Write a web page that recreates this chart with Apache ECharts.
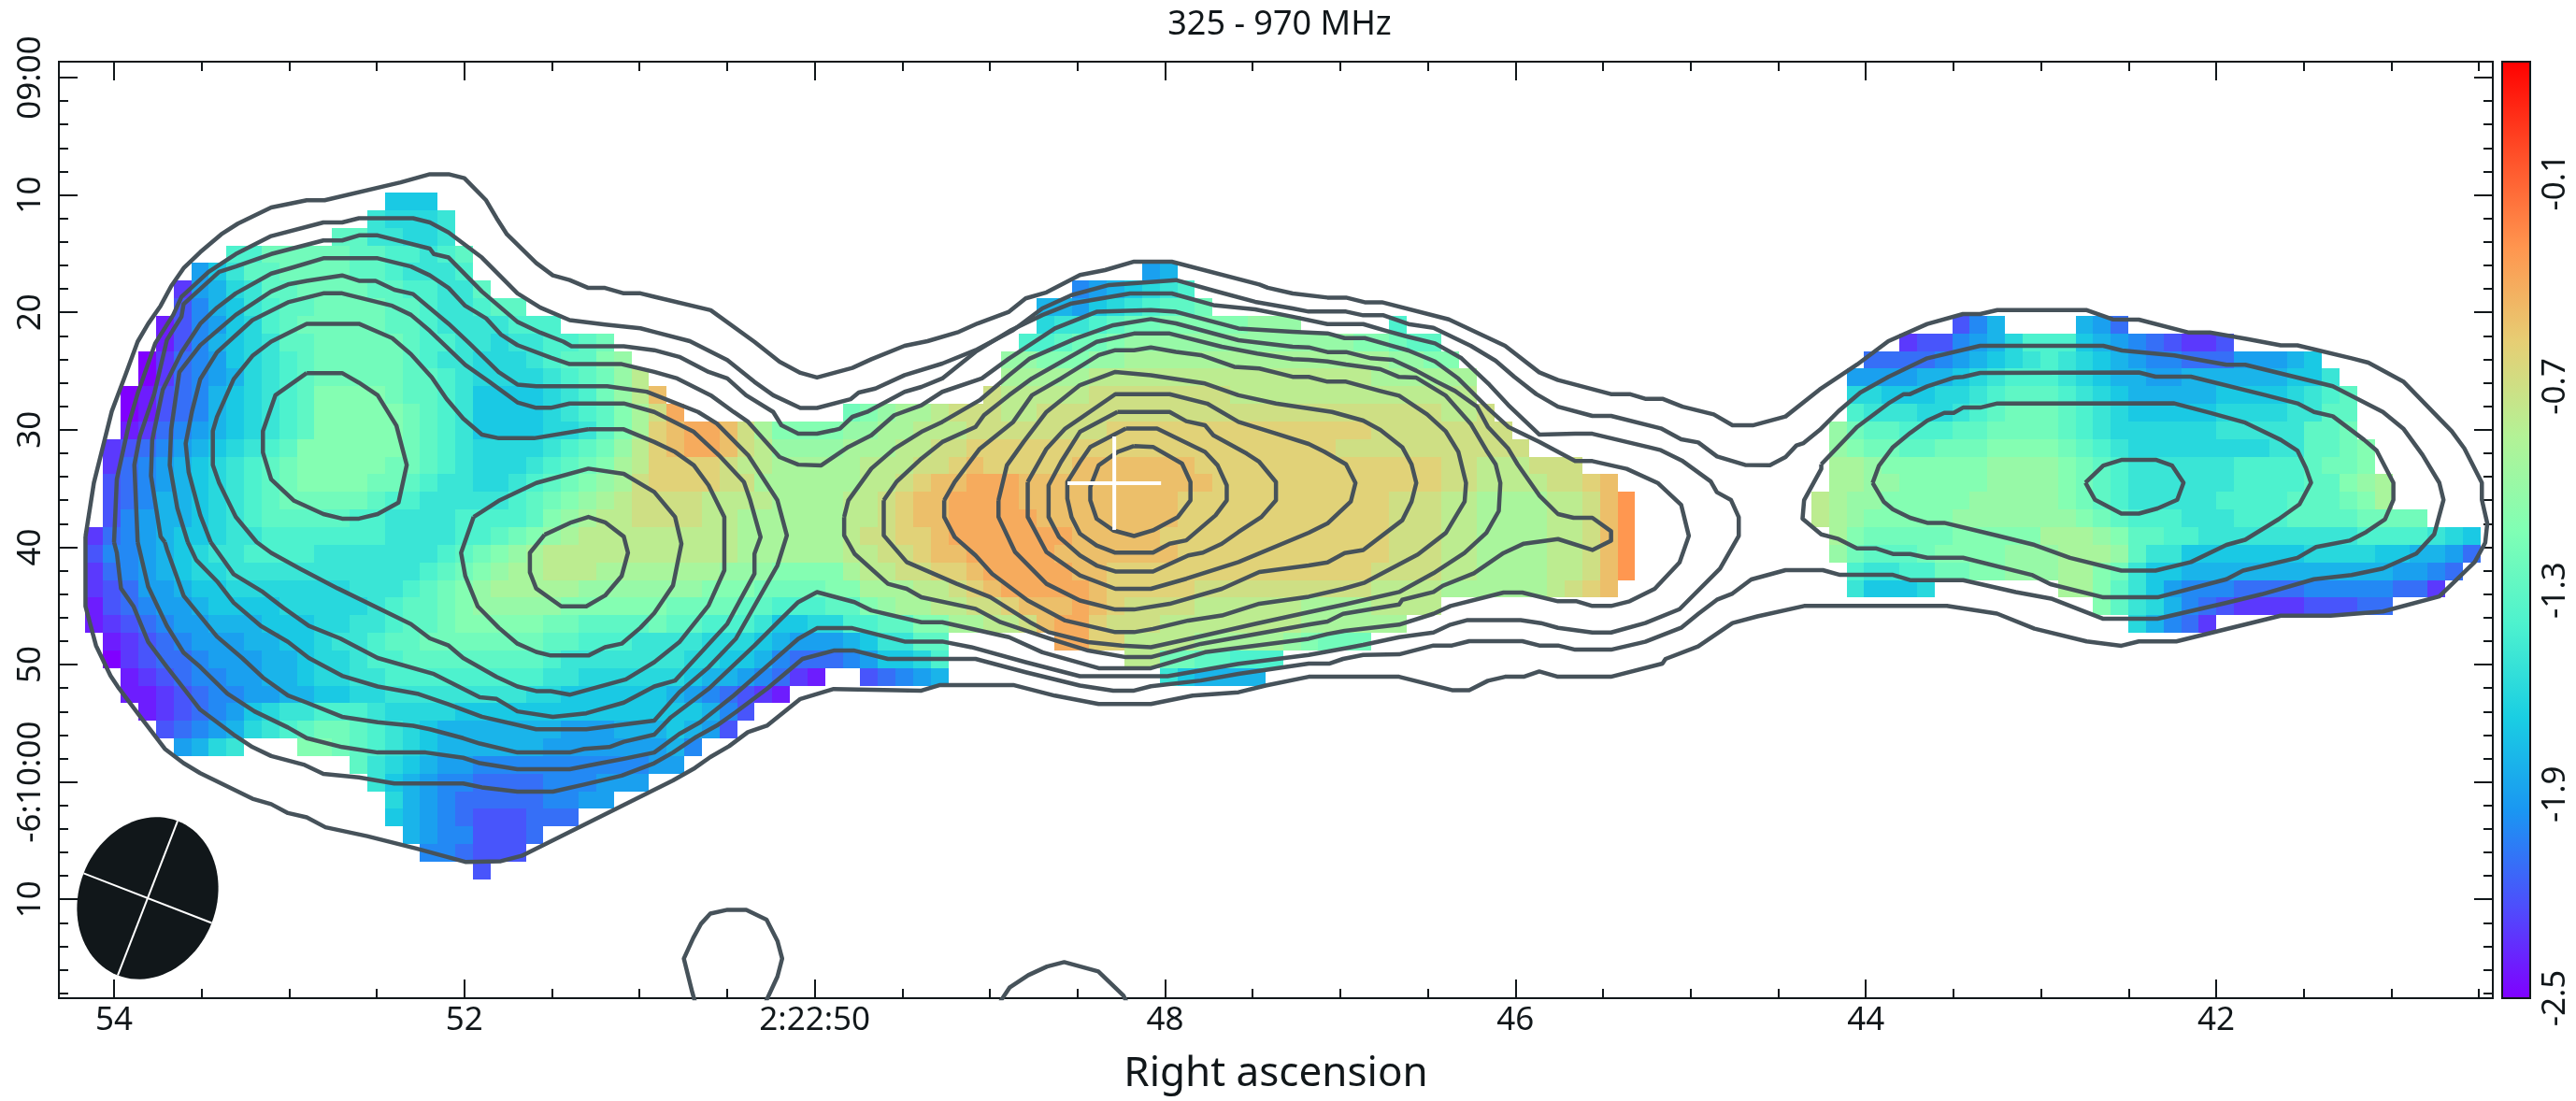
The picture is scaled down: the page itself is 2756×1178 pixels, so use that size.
<!DOCTYPE html>
<html><head><meta charset="utf-8">
<style>html,body{margin:0;padding:0;background:#fff}#c{width:2756px;height:1178px}</style>
<script src="https://cdn.jsdelivr.net/npm/echarts@6/dist/echarts.min.js"></script>
</head><body><div id="c"></div>
<script>
const titleText = "325 - 970 MHz";
const xAxisName = "Right ascension";
const raMin = 40.4205, raMax = 54.3148;
const decMin = -1.354, decMax = 78.42;
const xMajorTicks = [54,52,50,48,46,44,42];
const xMinorTicks = [54.5,53.5,53,52.5,51.5,51,50.5,49.5,49,48.5,47.5,47,46.5,45.5,45,44.5,43.5,43,42.5,41.5,41,40.5];
const yMajorTicks = [0,10,20,30,40,50,60,70];
const yMinorTicks = [2,4,6,8,12,14,16,18,22,24,26,28,32,34,36,38,42,44,46,48,52,54,56,58,62,64,66,68,72,74,76,78];
const yTickLabels = {0:"09:00",10:"10",20:"20",30:"30",40:"40",50:"50",60:"-6:10:00",70:"10"};
const xTickLabels = {54:"54",52:"52",50:"2:22:50",48:"48",46:"46",44:"44",42:"42"};
const barMin = -2.5, barMax = 0.255;
const barTicks = [-2.5,-1.9,-1.3,-0.7,-0.1];
const palette = ["#8000ff","#4d4ffc","#1a96f2","#1acee3","#4df2ce","#80ffb4","#b3f296","#e6ce74","#ff964f","#ff4f28","#ff0000"];
const levelLetters = "abcdefghijklmnopqrstuvw";
const levelValues = [-2.5,-2.4,-2.3,-2.2,-2.1,-2.0,-1.9,-1.8,-1.7,-1.6,-1.5,-1.4,-1.3,-1.2,-1.1,-1.0,-0.9,-0.8,-0.7,-0.6,-0.5,-0.4,-0.3];
const cellRaStart = 54.1628, cellRaStep = 0.10053, cellDecStart = 9.793, cellDecStep = 1.5;
// one string per map row: first column, then value-letter + last column of that run ('.' = blank)
const mapRows = [
"17 i19",
"16 k16 j19 k20",
"14 m15 k17 j19 k20",
"8 l9 n14 m16 l18 k19 l20 m21",
"6 g6 i7 k8 m10 n14 m16 l17 k20 l21 .59 g60 h61",
"5 c5 g6 h7 j8 k9 m11 n15 m17 l19 k21 m22 .55 f56 g57 h58 i59 j60 k61 l62",
"5 d5 f6 h7 i8 k9 l10 m12 n16 m18 l19 k21 l22 m24 .53 h55 g56 i57 j58 k59 l60 m62 n63",
"4 b4 d5 f6 g7 i8 j9 l10 m11 n16 m18 l19 k23 l26 .53 j54 k56 l57 m58 n60 o65 p68 .73 l74 .105 d106 f107 h108 .112 h113 g114 e115",
"4 b4 d5 f6 h7 i8 j9 k10 m12 n17 m18 l20 k22 j23 k25 l27 m28 n29 .52 l54 m55 n57 o58 p71 o73 n74 m76 .102 c103 d105 f106 g107 h108 j109 l112 i113 h114 g115 f116 e117 d118 c120 d121",
"3 a3 c4 e5 f6 g7 i8 j9 k10 l11 m12 n17 m18 l19 k21 j24 k25 l26 m28 o29 p30 .51 p53 o56 p58 q73 p75 o77 .100 e104 f105 g106 h107 i108 j109 k110 l111 k112 j113 i114 h115 g116 f118 e121 g124 h125 i126",
"3 a3 c4 e5 f6 g7 h8 j9 k10 l11 m12 n17 m19 l20 k21 j25 k26 l27 m28 n29 p30 r31 .51 q56 r72 q78 .99 g103 h105 i106 j107 k108 l111 k112 j113 i114 h116 g118 h124 i126 k127",
"2 a2 b3 d4 e5 f6 h7 i8 j9 k10 l11 m12 o16 n17 m19 l20 k21 i25 j26 k27 l28 n29 p30 r31 u32 .50 s51 r56 s64 r78 .99 j101 i104 j106 k107 l108 m111 l112 k113 j114 i115 h120 i124 j125 k126 l127 m128",
"2 a2 b3 d4 e5 f6 h7 i8 j9 k10 l11 m12 o17 n18 m19 l20 k21 i25 j26 k27 l28 m29 o30 q31 s32 v33 .42 n43 o44 p45 q47 r48 s51 r53 s76 r78 s79 .99 l100 k103 j105 k106 l107 m108 n111 m112 l113 k114 j115 i120 j124 k126 m128",
"2 b2 c3 e4 f5 g6 h7 i8 j9 k10 l11 m12 o17 n18 m19 l20 k21 i25 j27 k28 m29 o30 q31 t32 u33 v35 u36 s37 q38 o42 p44 q46 r49 s57 t72 s80 .98 p99 n100 m102 l105 m107 n111 m112 l113 k114 j120 k125 m127 n128",
"1 c1 d2 e3 f4 g5 h6 i7 j8 k9 l10 m11 o17 n18 m19 l20 k21 j25 k26 l27 m28 n29 p30 r31 t32 u33 v35 u36 s37 r38 p42 q45 r47 s49 t70 s81 .98 p99 o100 n102 m104 n107 o111 n112 m113 l114 k115 j123 k125 m127 n128 o129",
"1 c1 e2 f3 g4 h5 i6 j7 k8 l9 m10 n11 o16 n18 m19 l20 k21 j24 k25 l26 m27 n28 o29 q30 r31 t35 s36 r38 q43 r46 s48 t49 u50 t55 u62 t76 s78 r81 s84 .98 q100 p101 o107 p111 o112 n113 m114 l115 k121 l125 m126 n128 o129",
"1 d1 e2 f3 g4 h5 i6 j7 k8 l9 m10 n11 o15 n17 m18 l19 k21 j23 k24 l25 m26 n27 o28 p29 q30 s31 t35 s37 q43 r45 s46 t47 u49 v52 u63 t76 s78 r82 s84 t85 u86 .98 q100 p102 o107 p111 o112 n113 m114 l115 k121 l125 m127 o128 p129 q130",
"1 d1 e2 f3 h5 i6 j7 k8 l9 m10 n15 m16 l18 k23 l24 m25 n26 o27 p28 q29 r30 s34 r38 q42 r44 s45 t46 u48 v52 u61 t73 s76 r78 q82 r84 s85 u86 w87 .97 r98 q99 p101 o106 p111 o112 n113 m114 l115 k120 l124 m127 n128 o129 q130",
"1 d1 f2 g3 h5 i6 j7 k8 l9 m14 l16 k20 l24 m25 o26 p27 q28 r30 s34 r36 q42 r44 s45 t46 u48 v53 u61 t73 s76 r78 q82 r84 s85 u86 w87 .97 r98 q99 p100 o105 p112 o113 n114 m115 l118 k121 l124 m128 n132",
"0 c0 e1 f2 g3 h4 i6 j7 k9 l16 k20 l22 m23 n24 o25 p26 q27 r36 q42 r43 s45 t47 u48 v55 u60 t73 s76 r78 q82 r84 s85 u86 w87 .98 q99 o100 n105 o110 q113 p114 o115 m117 l119 k128 l132 k133 j134 i135",
"0 d0 f2 g3 h4 i5 j6 k8 l12 k19 l20 m21 n22 o23 p24 q25 r36 q42 r44 s46 t47 u49 v54 u61 t73 s76 r78 q82 r84 s85 u86 w87 .98 p99 n100 m103 n104 o108 p111 q114 p115 m116 k118 i125 j129 i131 h133 g134 e135",
"0 c0 e1 f2 g3 h4 i5 j7 k18 l19 m20 n21 o22 p23 q25 r28 q35 p38 o42 q43 r45 s47 t49 u50 v55 u57 t72 s76 r78 q82 r84 s85 u86 w87 .99 l100 k102 l104 n106 o108 p111 q113 o114 n115 k116 i118 h130 g132 f133 e134",
"0 c0 d1 e2 g4 h5 i7 j14 k17 l18 m19 n20 o21 p22 q27 p34 o37 n41 o43 q46 r48 s49 t50 u51 v56 u57 t62 s72 r76 q82 r83 s84 t85 u86 .99 k100 i103 j104 .111 q113 o114 m115 k116 i117 g118 f121 e125 f130 e132 c133",
"0 b0 d1 e2 f3 g5 h6 i10 j15 k16 l17 m19 n20 o21 p26 o32 n36 m38 l41 m43 o44 p45 q47 r49 s51 t52 u55 v56 u57 t58 s62 r68 q72 r76 .113 o114 m115 k116 j117 h118 f119 e120 d121 c125 d128 e130",
"0 b0 c1 d2 e3 f4 g6 h9 i12 j14 k16 l17 m19 n20 o25 n27 m31 n32 m34 l37 k38 i40 j42 l44 m46 o48 q50 r52 s53 u54 v56 t57 s60 r68 q74 .115 j116 h117 f118 e119 c120",
"1 b1 c2 d3 e4 f5 g8 h10 i12 j13 k15 l16 m18 n25 m27 l30 k34 j37 i38 h39 g42 h43 i44 k46 m48 .54 v56 t58 r62 q67 p68 o69 n72",
"1 a1 c2 d3 e5 f6 g9 h11 i12 j14 k15 l17 m25 l26 k33 j35 i37 h38 f39 e42 f43 g44 i46 j47 l48 .58 r60 n62 m64 l67",
"2 b2 c3 d4 e5 f7 g9 h11 i12 j14 k16 l25 k27 j33 i34 h36 g37 f38 e39 c40 b41 .43 d44 e45 f46 g47 h48 .60 k61 i62 h66",
"2 b3 c4 d5 e6 f8 g10 h12 i14 j16 k24 j26 i32 h33 g34 f35 e36 d37 c38 b39",
"3 b3 c4 d5 e6 f7 g8 i9 j10 k12 l15 k16 j20 i34 h35 f36 d37",
"4 d4 e5 f6 g7 h8 j9 k10 l11 m12 n14 m15 l16 k17 j18 i19 h26 g29 h32 i33 h34 g35 d36",
"5 g5 h6 j7 k8 .11 o13 n14 m15 l16 k17 j18 i19 h25 g32 h33 f34",
"15 m15 k16 j17 i18 h19 g21 f31 g33",
"16 k16 i17 h18 g19 f21 e25 f28 g31",
"17 j17 h18 g19 f20 e25 f27 g29",
"17 i17 h18 g19 f20 e21 d24 e27",
"18 h18 g19 f21 d24 e25",
"19 f20 e21 d24",
"22 d22"
];
// contours: [right ascension seconds, declination arcseconds past -6:09:00]
const contourL1=[[54.163,39.10],[54.115,34.52],[54.013,28.43],[53.936,25.38],[53.865,22.49],[53.805,20.97],[53.734,19.44],[53.674,17.77],[53.603,16.24],[53.508,14.87],[53.388,13.35],[53.293,12.44],[53.103,11.06],[52.900,10.45],[52.798,10.45],[52.364,8.93],[52.197,8.23],[52.090,8.23],[52.000,8.57],[51.876,10.45],[51.816,11.98],[51.757,13.35],[51.590,15.79],[51.495,16.85],[51.399,17.25],[51.292,17.92],[51.197,17.92],[51.090,18.38],[50.995,18.38],[50.916,18.67],[50.594,19.81],[50.344,22.51],[50.201,24.21],[50.082,25.15],[49.987,25.55],[49.785,24.73],[49.677,23.99],[49.487,22.85],[49.356,22.45],[49.177,21.66],[49.070,20.94],[48.891,19.95],[48.796,18.81],[48.677,18.30],[48.486,16.82],[48.343,16.40],[48.177,15.68],[47.962,15.68],[47.462,17.62],[47.414,17.90],[47.271,18.39],[47.073,18.74],[46.967,18.74],[46.860,19.14],[46.762,19.14],[46.380,20.60],[46.059,22.85],[45.864,25.11],[45.757,25.77],[45.455,26.96],[45.348,26.96],[45.259,27.36],[45.161,27.36],[45.046,28.03],[44.868,28.69],[44.761,29.62],[44.645,29.62],[44.458,28.87],[44.263,26.57],[44.049,24.44],[43.871,22.45],[43.649,20.99],[43.445,20.14],[43.347,20.14],[43.249,19.80],[42.742,19.80],[42.591,20.59],[42.441,20.62],[42.155,21.72],[42.036,21.72],[41.822,22.27],[41.631,22.81],[41.536,22.81],[41.226,23.91],[41.131,24.28],[40.929,25.92],[40.655,30.12],[40.583,31.59],[40.483,34.51],[40.483,35.97],[40.452,37.98],[40.464,39.63],[40.524,41.27],[40.726,44.20],[41.048,45.48],[41.346,45.84],[41.631,45.84],[42.227,48.03],[42.441,48.03],[42.541,48.40],[42.739,48.03],[43.037,46.94],[43.251,45.66],[43.537,45.00],[44.352,45.01],[44.619,45.90],[44.761,46.47],[44.957,48.46],[45.143,49.52],[45.161,49.92],[45.455,51.04],[45.757,51.04],[45.864,50.59],[45.953,51.04],[46.059,51.04],[46.157,51.38],[46.264,52.18],[46.362,52.18],[46.664,51.04],[47.180,51.04],[47.426,51.79],[47.581,52.36],[47.843,52.65],[48.081,53.36],[48.379,53.36],[48.629,52.65],[48.867,51.74],[49.284,51.74],[49.391,52.22],[49.892,52.08],[50.082,52.93],[50.273,55.21],[50.382,55.76],[50.489,56.95],[50.596,57.88],[50.684,58.81],[50.809,59.87],[50.916,60.67],[51.673,66.29],[51.792,66.75],[51.995,66.81],[52.269,65.69],[52.555,64.62],[52.793,63.86],[52.900,63.01],[53.007,62.65],[53.103,61.89],[53.210,61.43],[53.508,59.25],[53.603,58.40],[53.710,57.18],[53.865,54.15],[53.972,52.02],[54.020,50.96],[54.103,48.38],[54.163,45.04]];
const contourL2=[[54.00,39.57],[53.984,34.22],[53.913,29.35],[53.865,26.91],[53.765,22.64],[53.662,20.21],[53.615,18.68],[53.460,16.55],[53.305,15.03],[53.103,13.50],[52.805,12.34],[52.698,12.34],[52.602,11.98],[52.293,11.98],[52.197,12.34],[52.090,13.20],[51.900,15.33],[51.697,18.38],[51.566,19.60],[51.399,20.66],[51.197,21.03],[50.995,21.36],[50.916,21.66],[50.713,22.45],[50.499,24.07],[50.344,25.92],[50.237,27.06],[50.082,28.14],[49.987,28.14],[49.796,27.40],[49.749,26.83],[49.654,26.49],[49.487,25.35],[49.272,24.36],[49.082,23.22],[48.867,21.51],[48.701,19.66],[48.534,18.53],[48.320,17.67],[47.938,17.25],[47.712,18.19],[47.486,19.10],[47.272,19.66],[47.18,19.93],[46.967,19.93],[46.869,20.25],[46.753,20.25],[46.611,20.99],[46.468,21.31],[46.255,22.85],[46.113,24.12],[46.006,25.50],[45.881,26.96],[45.757,28.03],[45.561,28.82],[45.454,28.82],[45.170,29.88],[45.054,30.81],[44.956,31.08],[44.849,32.27],[44.689,32.99],[44.547,33.01],[44.458,32.33],[44.396,31.34],[44.355,31.13],[44.263,30.02],[44.156,28.42],[44.031,26.83],[43.871,25.50],[43.649,23.91],[43.347,22.85],[42.644,22.85],[42.537,23.25],[42.239,23.66],[41.941,24.46],[41.834,24.46],[41.334,26.29],[41.048,28.48],[40.929,29.94],[40.822,32.13],[40.726,34.51],[40.702,35.97],[40.755,38.90],[40.857,40.54],[41.048,41.82],[41.227,42.37],[41.441,42.73],[41.739,44.01],[41.941,44.74],[42.334,46.10],[42.644,46.10],[42.942,44.38],[43.144,43.83],[43.444,42.81],[43.747,42.81],[43.845,42.36],[44.147,42.36],[44.245,41.96],[44.458,41.96],[44.654,42.75],[44.761,43.95],[44.850,44.48],[44.956,45.68],[45.054,46.87],[45.259,48.06],[45.454,48.73],[45.659,48.73],[45.757,48.38],[45.864,48.38],[45.961,48.01],[46.264,48.01],[46.362,48.38],[46.468,48.38],[46.664,49.13],[46.869,49.18],[46.984,49.52],[47.064,49.92],[47.18,49.92],[47.581,50.80],[47.796,51.36],[48.081,51.85],[48.177,52.22],[48.296,52.22],[48.486,51.79],[48.796,50.65],[49.082,49.52],[49.582,49.52],[49.773,48.81],[49.892,48.81],[50.070,49.52],[50.273,52.07],[50.451,54.06],[50.559,55.20],[50.676,56.16],[50.809,57.49],[50.916,58.40],[51.102,59.46],[51.316,60.22],[51.495,60.83],[51.697,60.83],[51.900,60.46],[52.007,60.13],[52.400,60.13],[52.603,59.61],[52.805,59.31],[52.912,58.55],[53.103,57.79],[53.210,57.03],[53.317,55.97],[53.508,53.84],[53.603,52.02],[53.698,50.20],[53.805,48.07],[53.889,45.04],[53.960,43.52],[53.984,40.48]];
const contourL3=[[53.865,39.57],[53.884,33.00],[53.853,30.56],[53.770,26.91],[53.698,22.34],[53.615,20.36],[53.603,19.29],[53.400,16.55],[53.305,16.09],[53.103,15.03],[52.805,13.87],[52.698,13.87],[52.602,13.44],[52.495,13.44],[52.197,14.57],[52.174,15.03],[52.090,15.33],[51.900,18.22],[51.697,20.81],[51.566,21.73],[51.435,22.49],[51.388,22.89],[51.090,22.89],[50.916,23.22],[50.773,23.79],[50.606,25.07],[50.499,25.63],[50.392,27.06],[50.237,28.48],[50.190,29.62],[50.094,30.33],[49.987,30.33],[49.892,30.04],[49.856,29.90],[49.785,28.90],[49.701,28.48],[49.487,26.77],[49.391,26.35],[49.272,25.63],[49.082,23.36],[48.879,21.51],[48.701,20.23],[48.534,19.24],[48.200,18.39],[47.962,18.39],[47.724,19.38],[47.486,19.75],[47.272,20.37],[47.073,21.00],[46.869,21.00],[46.735,21.58],[46.620,22.05],[46.459,22.64],[46.308,23.91],[46.148,26.17],[46.041,27.89],[45.864,30.41],[45.659,30.34],[45.561,30.34],[45.241,31.48],[45.170,31.74],[45.045,32.67],[44.885,34.40],[44.850,35.32],[44.769,35.99],[44.725,37.45],[44.725,39.04],[44.832,41.83],[45.063,45.28],[45.259,46.47],[45.454,47.27],[45.561,47.27],[45.757,46.87],[45.855,46.47],[45.970,46.21],[46.273,46.21],[46.371,46.60],[46.468,47.27],[46.664,47.67],[46.869,48.33],[46.967,48.60],[47.18,49.18],[47.581,49.94],[47.986,50.99],[48.486,50.99],[48.796,49.80],[49.106,48.52],[49.272,48.04],[49.487,48.04],[49.785,46.90],[49.987,46.90],[50.094,47.81],[50.225,49.52],[50.463,52.64],[50.654,54.92],[50.773,55.91],[50.916,57.49],[51.090,58.03],[51.221,58.40],[51.399,58.92],[51.697,58.92],[51.912,58.40],[52.007,57.94],[52.221,57.49],[52.495,57.49],[52.698,57.03],[52.900,56.27],[53.007,55.36],[53.198,53.99],[53.353,52.48],[53.508,50.20],[53.603,48.98],[53.698,46.71],[53.805,43.37]];
const contourL4=[[53.710,39.57],[53.734,39.10],[53.789,33.92],[53.782,30.87],[53.722,26.60],[53.615,23.40],[53.508,20.97],[53.412,19.60],[53.305,18.38],[53.103,16.70],[52.995,16.24],[52.805,15.39],[52.495,15.39],[52.305,16.09],[52.197,16.85],[52.090,17.92],[51.995,19.44],[51.876,20.51],[51.792,21.88],[51.697,22.79],[51.507,23.86],[51.399,24.41],[51.102,24.41],[50.916,25.07],[50.785,25.63],[50.594,27.06],[50.463,28.48],[50.380,29.33],[50.201,32.32],[50.094,32.97],[49.963,33.03],[49.808,31.46],[49.677,30.47],[49.546,28.76],[49.391,27.91],[49.272,26.77],[49.046,25.63],[48.891,23.93],[48.629,21.37],[48.391,19.95],[48.081,19.81],[47.938,19.95],[47.581,21.37],[47.272,21.66],[47.073,21.79],[46.975,22.19],[46.860,22.19],[46.717,22.80],[46.611,23.25],[46.459,24.18],[46.326,25.64],[46.148,28.29],[46.041,29.75],[45.864,31.03],[45.659,32.67],[45.561,32.67],[45.365,33.33],[45.188,34.53],[45.054,36.39],[45.010,39.04],[45.063,41.30],[45.205,43.55],[45.348,44.61],[45.454,45.01],[45.561,45.01],[45.650,44.61],[45.757,44.61],[45.961,43.87],[46.068,43.87],[46.371,45.01],[46.468,45.68],[46.664,46.60],[46.975,47.13],[47.073,47.40],[47.18,47.80],[47.772,48.95],[48.081,50.31],[48.379,50.31],[48.701,48.95],[48.891,47.67],[49.272,46.39],[49.391,46.39],[49.677,45.39],[49.773,44.68],[49.987,43.83],[50.094,44.68],[50.201,46.25],[50.344,48.38],[50.606,52.07],[50.821,54.49],[50.916,55.97],[51.090,56.58],[51.173,57.03],[51.316,57.18],[51.399,57.49],[51.697,57.49],[51.912,56.73],[52.007,56.27],[52.197,55.51],[52.293,55.21],[52.495,54.91],[52.698,54.45],[52.900,53.24],[53.007,52.63],[53.150,51.11],[53.269,49.44],[53.412,47.62],[53.603,44.13],[53.698,40.18]];
const contourL5=[[49.832,37.43],[49.808,36.01],[49.677,33.31],[49.546,31.62],[49.391,30.18],[49.272,29.33],[49.058,27.48],[48.891,25.35],[48.772,23.93],[48.510,22.22],[48.296,21.09],[48.081,20.57],[47.938,20.94],[47.581,22.37],[47.272,22.93],[47.18,22.98],[47.073,23.38],[46.967,23.38],[46.824,23.91],[46.700,24.04],[46.566,24.97],[46.451,25.90],[46.344,26.70],[46.219,28.03],[46.157,29.75],[46.041,31.61],[45.988,32.94],[45.864,35.59],[45.757,37.18],[45.668,37.50],[45.561,37.50],[45.454,38.64],[45.454,39.44],[45.561,40.24],[45.757,39.31],[45.952,39.70],[46.068,40.50],[46.237,42.22],[46.415,43.29],[46.468,43.82],[46.646,44.48],[46.664,44.88],[46.984,45.68],[47.073,46.34],[47.18,46.60],[47.796,48.24],[48.081,49.37],[48.224,49.37],[48.439,48.81],[48.653,47.81],[48.939,46.39],[49.082,45.25],[49.391,44.26],[49.475,43.55],[49.582,43.12],[49.773,40.56],[49.832,39.00]];
const contourL6=[[49.606,36.01],[49.534,34.45],[49.391,32.46],[49.272,31.04],[49.082,29.76],[49.034,28.76],[48.891,27.06],[48.760,25.63],[48.391,22.51],[48.177,21.80],[47.974,21.80],[47.676,22.93],[47.474,23.50],[47.272,23.99],[47.18,24.04],[47.073,24.18],[46.967,24.44],[46.771,24.84],[46.664,25.50],[46.566,25.56],[46.397,27.10],[46.255,29.49],[46.166,31.74],[46.113,32.94],[46.086,34.53],[46.095,36.92],[46.166,38.78],[46.291,40.50],[46.468,42.22],[46.664,43.82],[46.975,44.88],[47.18,45.54],[47.486,46.53],[47.819,47.67],[48.081,48.52],[48.248,48.38],[48.439,48.09],[48.665,47.24],[48.772,46.39],[48.998,44.26],[49.189,43.12],[49.475,41.27],[49.606,39.00]];
const contourL7=[[49.261,36.01],[49.201,34.45],[49.058,31.62],[48.867,29.33],[48.760,27.06],[48.594,25.63],[48.379,23.64],[48.284,23.22],[48.177,23.22],[48.081,22.99],[47.938,23.36],[47.796,23.64],[47.605,24.64],[47.462,24.78],[47.272,25.49],[47.18,25.50],[47.073,25.90],[46.967,25.90],[46.771,26.70],[46.664,27.10],[46.504,28.69],[46.397,30.15],[46.326,31.87],[46.282,34.53],[46.290,36.12],[46.397,38.78],[46.557,40.63],[46.860,43.02],[46.984,43.55],[47.18,44.22],[47.462,44.82],[47.676,45.82],[47.867,46.25],[48.069,46.96],[48.177,47.24],[48.284,47.24],[48.570,46.25],[48.784,44.54],[48.987,42.27],[49.082,40.70],[49.201,39.14],[49.261,37.43]];
const contourL8=[[48.951,36.01],[48.903,33.03],[48.808,31.04],[48.677,28.48],[48.486,26.20],[48.284,25.07],[48.081,25.35],[47.772,26.06],[47.581,27.06],[47.367,27.77],[47.047,28.48],[46.869,29.22],[46.771,30.02],[46.646,31.48],[46.593,32.94],[46.566,34.53],[46.593,36.12],[46.646,37.71],[46.869,40.24],[46.975,40.50],[47.073,41.30],[47.18,41.56],[47.462,42.12],[47.676,43.55],[47.974,44.83],[48.177,45.31],[48.284,45.31],[48.486,44.54],[48.677,43.12],[48.856,40.42],[48.951,37.43]];
const contourL9=[[48.784,34.45],[48.677,31.62],[48.570,29.90],[48.486,29.05],[48.284,26.97],[47.974,26.97],[47.760,27.77],[47.581,29.33],[47.367,30.33],[47.18,31.21],[47.091,31.87],[46.967,32.94],[46.913,34.53],[46.940,36.12],[47.073,37.98],[47.18,38.77],[47.581,41.27],[47.879,42.69],[48.081,43.55],[48.284,43.55],[48.486,42.41],[48.677,40.42],[48.784,37.43]];
const contourL10=[[48.272,28.48],[47.974,28.48],[47.879,29.27],[47.772,29.62],[47.724,30.47],[47.534,32.03],[47.462,32.74],[47.367,34.45],[47.367,36.01],[47.450,37.43],[47.581,38.71],[47.676,39.71],[47.784,40.47],[47.867,40.70],[48.069,42.07],[48.284,42.07],[48.391,41.56],[48.486,40.70],[48.605,39.14],[48.665,37.43],[48.665,34.73],[48.594,32.74],[48.486,30.18]];
const contourL11=[[48.224,29.90],[48.046,29.90],[47.772,31.89],[47.700,33.03],[47.648,34.73],[47.648,36.01],[47.712,37.29],[47.879,39.42],[47.974,39.71],[48.069,40.47],[48.284,40.47],[48.391,39.85],[48.486,38.85],[48.534,37.43],[48.558,35.87],[48.558,34.45],[48.486,32.74],[48.427,31.46]];
const contourL12=[[48.177,31.38],[48.069,31.46],[47.903,32.88],[47.855,34.45],[47.855,36.01],[47.927,37.43],[48.069,38.57],[48.177,39.05],[48.296,38.57],[48.391,37.58],[48.427,36.01],[48.427,34.87],[48.379,33.03],[48.272,31.89]];
const contourA5=[[53.579,39.57],[53.639,36.66],[53.682,33.00],[53.674,29.96],[53.627,25.08],[53.508,22.80],[53.305,20.21],[53.103,18.22],[53.007,17.62],[52.900,17.31],[52.698,16.85],[52.602,17.31],[52.507,17.31],[52.400,18.07],[52.293,18.44],[52.090,20.97],[51.971,22.64],[51.804,25.08],[51.697,26.15],[51.590,26.30],[51.185,26.30],[50.959,26.76],[50.666,28.48],[50.559,29.47],[50.380,32.17],[50.213,36.01],[50.159,39.00],[50.213,41.56],[50.451,47.81],[50.606,50.23],[50.773,52.36],[50.916,54.78],[51.304,55.51],[51.590,55.51],[51.900,54.45],[52.090,53.39],[52.269,52.48],[52.495,51.87],[52.698,50.96],[52.888,49.44],[53.007,48.07],[53.162,46.71],[53.317,44.73],[53.412,42.91],[53.531,41.09]];
const contourA6=[[53.448,39.57],[53.508,37.27],[53.574,33.61],[53.591,31.17],[53.555,28.43],[53.508,25.69],[53.412,23.40],[53.210,20.66],[53.007,19.14],[52.805,18.38],[52.698,18.38],[52.412,19.44],[52.305,20.21],[52.197,21.58],[51.995,24.47],[51.864,25.84],[51.697,27.67],[51.590,28.13],[51.507,28.13],[51.399,27.76],[51.090,27.76],[50.916,28.48],[50.690,30.18],[50.547,32.17],[50.404,34.45],[50.368,36.01],[50.309,39.14],[50.344,40.56],[50.344,42.27],[50.499,46.53],[50.630,48.66],[50.797,51.36],[50.916,51.87],[51.090,53.24],[51.304,54.15],[51.495,54.45],[51.697,53.99],[51.816,52.93],[51.912,52.78],[52.174,50.81],[52.495,49.44],[52.710,47.77],[52.888,46.71],[53.031,45.19],[53.150,43.82],[53.317,42.30]];
const contourA7=[[51.292,29.96],[51.090,29.96],[50.916,31.04],[50.797,31.89],[50.690,33.03],[50.606,34.73],[50.516,37.43],[50.516,41.98],[50.606,44.97],[50.773,48.09],[50.916,49.80],[51.078,51.26],[51.399,52.57],[51.507,52.26],[51.590,52.26],[51.697,51.87],[51.816,51.05],[52.007,49.44],[52.090,48.38],[52.197,47.77],[52.305,46.55],[52.722,43.52],[52.936,41.85],[53.103,40.48],[53.186,39.57],[53.305,37.42],[53.400,34.53],[53.436,33.00],[53.436,30.11],[53.412,28.89],[53.317,25.69],[53.210,23.71],[53.103,22.49],[52.900,20.97],[52.602,20.97],[52.412,22.19],[52.305,23.56],[52.186,25.54],[52.102,27.37],[52.007,29.04],[51.900,30.41],[51.804,30.72],[51.602,30.72]];
const contourP1=[[52.900,25.17],[52.698,25.17],[52.602,25.99],[52.495,27.06],[52.388,29.65],[52.329,33.00],[52.376,36.20],[52.495,37.18],[52.602,37.57],[52.698,37.57],[52.805,37.18],[52.972,36.05],[53.103,34.22],[53.150,31.94],[53.150,30.11],[53.079,27.06]];
const contourP2=[[51.947,37.42],[51.804,36.05],[51.590,34.53],[51.292,33.31],[51.090,33.76],[50.916,35.30],[50.797,37.43],[50.761,39.71],[50.809,43.26],[50.916,45.62],[50.995,46.86],[51.102,48.22],[51.197,48.53],[51.292,49.23],[51.507,49.23],[51.590,48.92],[51.697,48.22],[51.804,46.86],[51.924,45.04],[51.995,42.45],[52.019,40.48]];
const contourP3=[[51.542,38.94],[51.388,37.88],[51.292,37.42],[51.197,37.88],[51.090,39.10],[51.066,40.48],[51.102,42.45],[51.197,44.12],[51.304,45.04],[51.447,45.04],[51.590,43.52],[51.626,42.15],[51.626,40.48]];
const contourR1=[[44.254,32.94],[44.049,29.75],[43.871,27.76],[43.783,26.96],[43.747,26.96],[43.649,26.30],[43.498,25.56],[43.445,25.50],[43.347,25.16],[42.441,25.12],[42.346,25.48],[42.144,25.48],[41.727,27.02],[41.536,27.75],[41.441,28.48],[41.334,28.85],[41.155,30.86],[41.084,31.77],[40.988,34.51],[40.988,35.97],[41.036,37.62],[41.143,38.71],[41.238,39.44],[41.429,39.99],[41.536,40.91],[41.846,42.00],[41.941,42.73],[42.334,44.27],[42.644,44.27],[42.946,43.15],[43.053,42.36],[43.445,40.90],[43.649,40.90],[43.747,40.58],[43.845,40.58],[43.943,40.10],[44.050,40.10],[44.156,39.30],[44.254,38.91],[44.361,37.58],[44.352,35.99],[44.254,33.33]];
const contourR2=[[43.961,34.53],[43.925,33.07],[43.845,31.48],[43.747,30.28],[43.649,29.22],[43.552,28.56],[43.498,28.56],[43.445,28.11],[43.347,28.11],[43.249,27.76],[42.239,27.75],[42.036,28.55],[41.834,29.39],[41.631,30.86],[41.536,31.77],[41.488,33.23],[41.458,34.51],[41.524,36.34],[41.643,37.62],[41.834,39.37],[41.941,39.81],[42.144,41.27],[42.346,42.00],[42.541,42.00],[42.834,40.91],[43.037,39.81],[43.251,39.01],[43.552,37.93],[43.649,37.93],[43.747,37.50],[43.845,36.78],[43.898,36.12]];
const contourR3=[[42.746,34.51],[42.644,33.05],[42.541,32.57],[42.341,32.57],[42.251,33.05],[42.186,34.51],[42.222,35.97],[42.334,36.70],[42.441,37.14],[42.541,37.14],[42.691,35.97]];
const arcLeft=[[50.684,78.71],[50.699,77.92],[50.747,75.05],[50.693,73.27],[50.649,72.08],[50.596,71.21],[50.498,70.89],[50.391,70.89],[50.275,71.74],[50.213,73.54],[50.186,75.05],[50.213,76.59],[50.279,78.71]];
const arcRight=[[48.941,78.71],[48.888,77.52],[48.781,76.46],[48.674,75.72],[48.576,75.35],[48.381,76.14],[48.238,78.19],[48.221,78.71]];
const closedContours=[contourL1,contourL2,contourL3,contourL4,contourL5,contourL6,contourL7,contourL8,contourL9,contourL10,contourL11,contourL12,contourA5,contourA6,contourA7,contourP1,contourP2,contourP3,contourR1,contourR2,contourR3];
const openContours=[arcLeft,arcRight];
const crossRa=48.29, crossDec=34.55, crossHalfRa=0.267, crossHalfDec=3.98;
const beamRa=53.808, beamDec=69.9, beamMajor=7.05, beamMinor=5.85, beamAngle=21.2, secPerArcsec=0.06702;

const ink="#11171a", contourColor="#46525a", font="Noto Sans";
const cells=[];
mapRows.forEach((text,r)=>{
  const tokens=text.split(" ");
  let col=Number(tokens[0]);
  tokens.slice(1).forEach(tok=>{
    const end=Number(tok.slice(1));
    if(tok[0]!=="."){
      const v=levelValues[levelLetters.indexOf(tok[0])];
      for(let c=col;c<=end;c++) cells.push([cellRaStart-(c+0.5)*cellRaStep,cellDecStart+(r+0.5)*cellDecStep,v]);
    }
    col=end+1;
  });
});
function renderCell(params,api){
  const ra=api.value(0),dec=api.value(1);
  const p0=api.coord([ra+cellRaStep/2,dec-cellDecStep/2]);
  const p1=api.coord([ra-cellRaStep/2,dec+cellDecStep/2]);
  const x=Math.round(p0[0]),y=Math.round(p0[1]);
  return {type:"rect",shape:{x:x,y:y,width:Math.round(p1[0])-x,height:Math.round(p1[1])-y},style:{fill:api.visual("color")}};
}
function renderBeam(params,api){
  const th=beamAngle*Math.PI/180;
  const at=(u,v)=>{
    const east=u*Math.sin(th)+v*Math.cos(th), south=-u*Math.cos(th)+v*Math.sin(th);
    return api.coord([beamRa-east*secPerArcsec,beamDec+south]);
  };
  const pts=[];
  for(let i=0;i<96;i++){const a=i/96*2*Math.PI;pts.push(at(beamMajor*Math.cos(a),beamMinor*Math.sin(a)));}
  const w={stroke:"#ffffff",lineWidth:2};
  const a0=at(beamMajor,0),a1=at(-beamMajor,0),b0=at(0,beamMinor),b1=at(0,-beamMinor);
  return {type:"group",children:[
    {type:"polygon",shape:{points:pts},style:{fill:ink}},
    {type:"line",shape:{x1:a0[0],y1:a0[1],x2:a1[0],y2:a1[1]},style:w},
    {type:"line",shape:{x1:b0[0],y1:b0[1],x2:b1[0],y2:b1[1]},style:w}
  ]};
}
function renderBar(params,api){
  const p0=api.coord([0,barMax]),p1=api.coord([1,barMin]);
  return {type:"rect",shape:{x:p0[0],y:p0[1],width:p1[0]-p0[0],height:p1[1]-p0[1]},
    style:{fill:{type:"linear",x:0,y:1,x2:0,y2:0,colorStops:palette.map((c,i)=>({offset:i/(palette.length-1),color:c}))},stroke:ink,lineWidth:2}};
}
const lineStyle={color:ink,width:2};
function xAx(pos,ticks,len,labels){
  return {type:"value",gridIndex:0,position:pos,inverse:true,min:raMin,max:raMax,
    splitLine:{show:false},axisLine:{show:true,onZero:false,lineStyle},
    axisTick:{show:true,inside:true,length:len,lineStyle,customValues:ticks},
    axisLabel:labels?{show:true,customValues:ticks,margin:7,color:ink,fontFamily:font,fontSize:35,formatter:v=>xTickLabels[v]}:{show:false},
    ...(labels?{name:xAxisName,nameLocation:"middle",nameGap:59,nameTextStyle:{color:ink,fontFamily:font,fontSize:44}}:{})};
}
function yAx(pos,ticks,len,labels){
  return {type:"value",gridIndex:0,position:pos,inverse:true,min:decMin,max:decMax,
    splitLine:{show:false},axisLine:{show:true,onZero:false,lineStyle},
    axisTick:{show:true,inside:true,length:len,lineStyle,customValues:ticks},
    axisLabel:labels?{show:true,customValues:ticks,rotate:90,margin:12,color:ink,fontFamily:font,fontSize:35,formatter:v=>yTickLabels[v]}:{show:false}};
}
const series=[
  {type:"custom",xAxisIndex:0,yAxisIndex:0,coordinateSystem:"cartesian2d",renderItem:renderCell,data:cells,encode:{x:0,y:1},silent:true,z:1,clip:true,progressive:0,animation:false}
];
closedContours.forEach(c=>series.push({type:"line",xAxisIndex:0,yAxisIndex:0,data:c.concat([c[0]]),showSymbol:false,symbol:"none",smooth:false,silent:true,z:3,lineStyle:{color:contourColor,width:4.5,join:"round"},animation:false}));
openContours.forEach(c=>series.push({type:"line",xAxisIndex:0,yAxisIndex:0,data:c,showSymbol:false,symbol:"none",smooth:false,silent:true,z:3,lineStyle:{color:contourColor,width:4.5,join:"round"},animation:false}));
[[[crossRa+crossHalfRa,crossDec],[crossRa-crossHalfRa,crossDec]],[[crossRa,crossDec-crossHalfDec],[crossRa,crossDec+crossHalfDec]]].forEach(c=>
  series.push({type:"line",xAxisIndex:0,yAxisIndex:0,data:c,showSymbol:false,symbol:"none",silent:true,z:4,lineStyle:{color:"#ffffff",width:4},animation:false}));
series.push({type:"custom",xAxisIndex:0,yAxisIndex:0,coordinateSystem:"cartesian2d",renderItem:renderBeam,data:[[beamRa,beamDec]],encode:{x:0,y:1},silent:true,z:5,animation:false});
series.push({type:"custom",xAxisIndex:4,yAxisIndex:4,coordinateSystem:"cartesian2d",renderItem:renderBar,data:[[0,barMin]],encode:{x:0,y:1},silent:true,z:1,animation:false});

const chart=echarts.init(document.getElementById("c"),null,{renderer:"canvas"});
chart.setOption({
  animation:false,backgroundColor:"#ffffff",
  textStyle:{fontFamily:font},
  title:{text:titleText,left:1364,top:4,textAlign:"center",textStyle:{color:ink,fontFamily:font,fontSize:36,fontWeight:"normal"}},
  grid:[{left:63,top:66,width:2604,height:1002,containLabel:false,outerBoundsMode:"none"},{left:2677,top:66,width:30,height:1002,containLabel:false,outerBoundsMode:"none"}],
  xAxis:[xAx("bottom",xMajorTicks,20,true),xAx("top",xMajorTicks,20,false),xAx("bottom",xMinorTicks,10,false),xAx("top",xMinorTicks,10,false),
    {type:"value",gridIndex:1,min:0,max:1,show:false}],
  yAxis:[yAx("left",yMajorTicks,20,true),yAx("right",yMajorTicks,20,false),yAx("left",yMinorTicks,10,false),yAx("right",yMinorTicks,10,false),
    {type:"value",gridIndex:1,position:"right",min:barMin,max:barMax,splitLine:{show:false},
     axisLine:{show:false,onZero:false},axisTick:{show:true,inside:true,length:12,lineStyle,customValues:barTicks},
     axisLabel:{show:true,customValues:barTicks,rotate:90,margin:10,color:ink,fontFamily:font,fontSize:35,formatter:v=>v.toFixed(1)}}],
  visualMap:[{type:"continuous",show:false,seriesIndex:0,dimension:2,min:barMin,max:barMax,inRange:{color:palette}}],
  series
});
</script></body></html>
